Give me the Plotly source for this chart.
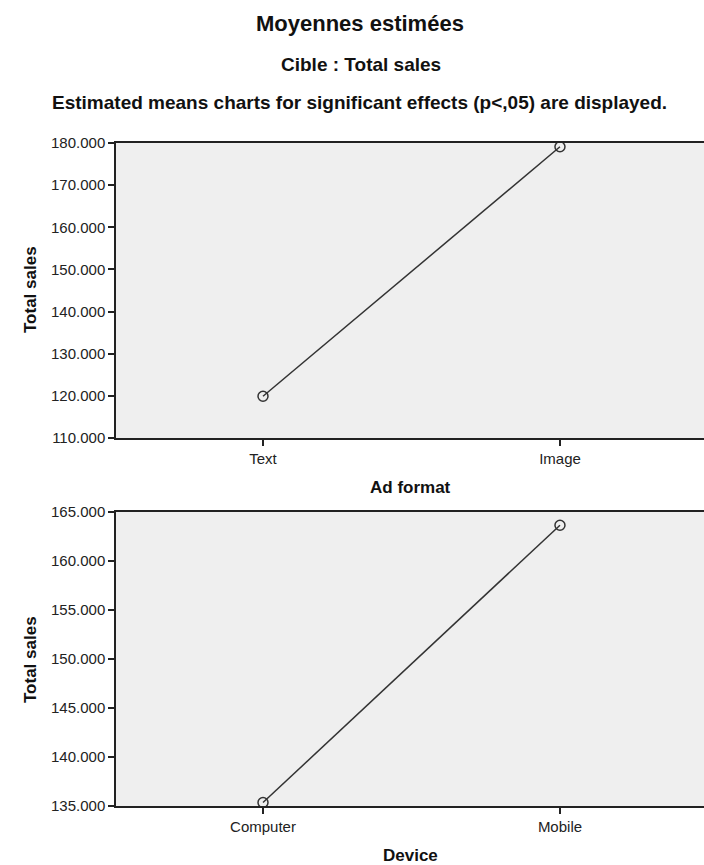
import plotly.graph_objects as go

# Data
ad_format = ["Text", "Image"]
ad_means = [119900, 179100]
device = ["Computer", "Mobile"]
device_means = [135350, 163650]
y1_ticks = [110000, 120000, 130000, 140000, 150000, 160000, 170000, 180000]
y2_ticks = [135000, 140000, 145000, 150000, 155000, 160000, 165000]

W, H = 704, 865
L, R, T, B = 116, 0, 143, 59
PW = W - L - R
PH = H - T - B

def px(x):
    return (x - L) / PW

def py(y):
    return (H - B - y) / PH

top_dom = [py(438), 1.0]
bot_dom = [0.0, py(512)]

line_col = "#333333"
FONT = "Liberation Sans, Arial, sans-serif"

fig = go.Figure()
for xa, ya, vals in (("x", "y", ad_means), ("x2", "y2", device_means)):
    fig.add_trace(go.Scatter(x=[0, 1], y=vals, mode="lines+markers",
                             line=dict(color=line_col, width=1.5),
                             marker=dict(symbol="circle-open", size=10, color=line_col,
                                         line=dict(width=1.5, color=line_col)),
                             xaxis=xa, yaxis=ya, showlegend=False, hoverinfo="y"))

xr = [-0.495, 1.485]
axis_common = dict(showgrid=False, zeroline=False, showline=True, linecolor="#222",
                   linewidth=1.5, ticks="outside", ticklen=6, tickcolor="#222", tickwidth=1.5,
                   tickfont=dict(family=FONT, size=15, color="#222"))

fig.update_layout(
    width=W, height=H,
    margin=dict(l=L, r=R, t=T, b=B),
    paper_bgcolor="white",
    plot_bgcolor="#efefef",
    separators=",.",
    xaxis=dict(domain=[0, 1], anchor="y", range=xr, tickvals=[0, 1], ticktext=ad_format,
               mirror=True, **axis_common),
    yaxis=dict(domain=top_dom, anchor="x", range=[110000, 180000], tickvals=y1_ticks,
               tickformat=",d", **axis_common),
    xaxis2=dict(domain=[0, 1], anchor="y2", range=xr, tickvals=[0, 1], ticktext=device,
                mirror=True, **axis_common),
    yaxis2=dict(domain=bot_dom, anchor="x2", range=[135000, 165000], tickvals=y2_ticks,
                tickformat=",d", **axis_common),
)

def ann(text, x, y, size, bold=True, angle=0):
    fig.add_annotation(text=f"<b>{text}</b>" if bold else text, x=px(x), y=py(y),
                       xref="paper", yref="paper", showarrow=False, textangle=angle,
                       xanchor="center", yanchor="middle",
                       font=dict(family=FONT, size=size, color="#111"))

ann("Moyennes estimées", 360, 24, 22)
ann("Cible : Total sales", 361, 65, 19)
ann("Estimated means charts for significant effects (p&lt;,05) are displayed.", 359, 102, 19)
ann("Total sales", 30, 290, 17, angle=-90)
ann("Total sales", 30, 660, 17, angle=-90)
ann("Ad format", 411, 488, 17)
ann("Device", 411, 855, 17)

fig.write_html("out.html", config={"displayModeBar": False},
               post_script="document.body.style.margin='0px';")
